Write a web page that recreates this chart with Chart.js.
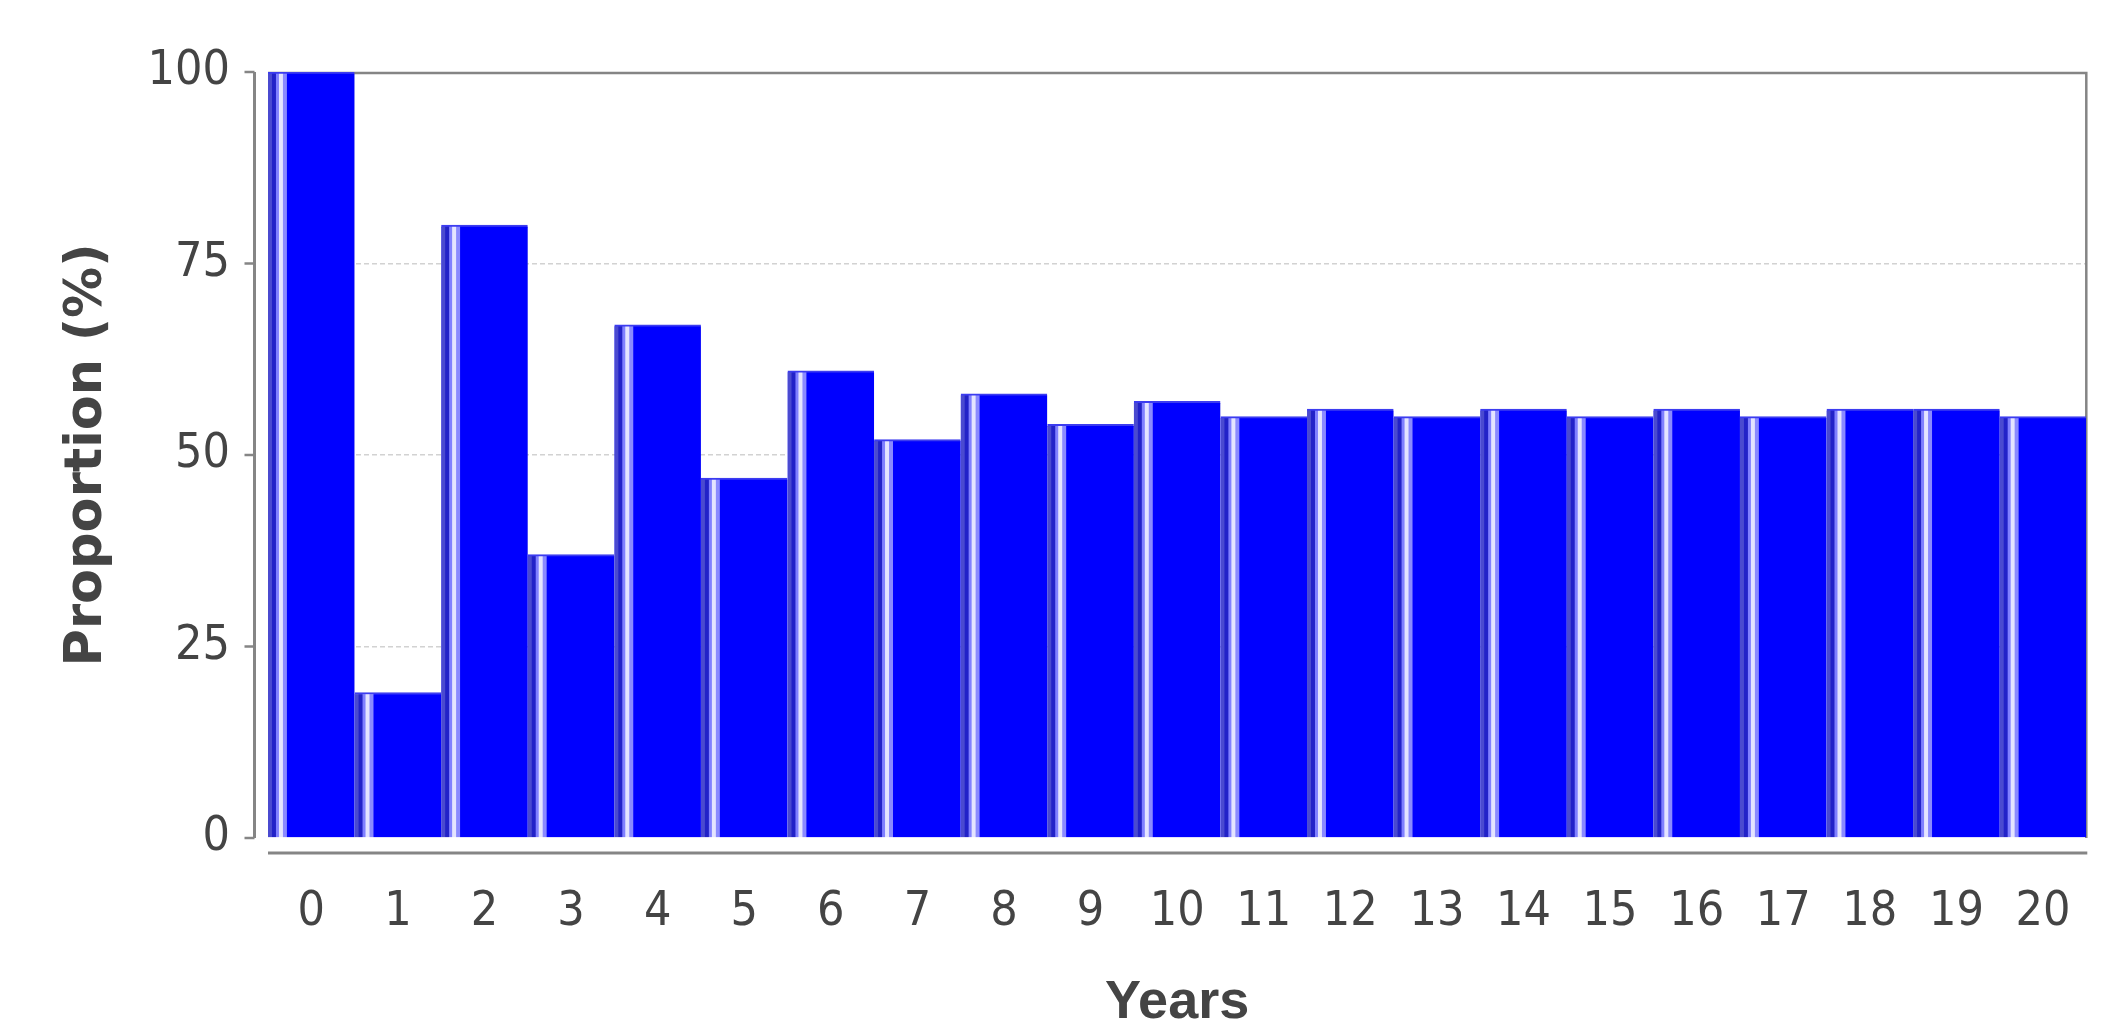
<!doctype html>
<html lang="en">
<head>
<meta charset="utf-8">
<title>Proportion by year</title>
<script src="https://cdn.jsdelivr.net/npm/chart.js"></script>
<style>
html, body { margin: 0; padding: 0; background: #fff; }
#wrap { width: 2109px; height: 1027px; }
</style>
</head>
<body>
<div id="wrap"><canvas id="chart" width="2109" height="1027"></canvas></div>
<script>
// Data
const years = ['0','1','2','3','4','5','6','7','8','9','10','11','12','13','14','15','16','17','18','19','20'];
const proportion = [100, 19, 80, 37, 67, 47, 61, 52, 58, 54, 57, 55, 56, 55, 56, 55, 56, 55, 56, 56, 55];
const yTicks = [0, 25, 50, 75, 100];

const axisGray = '#858585';
const textGray = '#444444';

// stripe pattern for the bars (highlight on the left of each bar)
const PW = 87;
const pcan = document.createElement('canvas');
pcan.width = PW; pcan.height = 1;
const pctx = pcan.getContext('2d');
const stripes = [
  [0, 4, '#4a4ad0'],
  [4, 8, '#2222c8'],
  [8, 11, '#8080ff'],
  [11, 15, '#e4e4ff'],
  [15, 19, '#8a8aff'],
  [19, PW, '#0000ff']
];
stripes.forEach(s => { pctx.fillStyle = s[2]; pctx.fillRect(s[0], 0, s[1] - s[0], 1); });
const ctx = document.getElementById('chart').getContext('2d');
const barPattern = ctx.createPattern(pcan, 'repeat');

const axesPlugin = {
  id: 'axesPlugin',
  beforeDatasetsDraw(chart) {
    const a = chart.chartArea;
    const cw = a.width / years.length;
    barPattern.setTransform(new DOMMatrix([cw / PW, 0, 0, 1, a.left, 0]));

    const c = chart.ctx;
    const ys = chart.scales.y;
    c.save();
    c.strokeStyle = axisGray;
    c.setLineDash([]);
    // top and right border of the plot
    c.lineWidth = 2.5;
    c.beginPath();
    c.moveTo(a.left, a.top + 1);
    c.lineTo(a.right, a.top + 1);
    c.lineTo(a.right, a.bottom);
    c.stroke();
    // y axis, set off to the left
    const ax = a.left - 13.5;
    c.lineWidth = 3;
    c.beginPath();
    c.moveTo(ax, ys.getPixelForValue(100));
    c.lineTo(ax, ys.getPixelForValue(0));
    c.stroke();
    c.lineWidth = 2.5;
    yTicks.forEach(v => {
      const py = ys.getPixelForValue(v);
      c.beginPath();
      c.moveTo(ax - 10, py);
      c.lineTo(ax, py);
      c.stroke();
    });
    // x axis, set off below
    c.lineWidth = 3;
    c.beginPath();
    c.moveTo(a.left, a.bottom + 15);
    c.lineTo(a.right + 1, a.bottom + 15);
    c.stroke();
    c.restore();
  }
};

new Chart(ctx, {
  type: 'bar',
  data: {
    labels: years,
    datasets: [{
      data: proportion,
      backgroundColor: barPattern,
      borderColor: '#3c3cf0',
      borderWidth: { top: 2, left: 0, right: 0, bottom: 0 },
      borderSkipped: 'start',
      barPercentage: 1,
      categoryPercentage: 1
    }]
  },
  options: {
    responsive: false,
    animation: false,
    devicePixelRatio: 1,
    events: [],
    layout: { padding: { top: 72, right: 22, left: 0, bottom: 0 } },
    plugins: {
      legend: { display: false },
      tooltip: { enabled: false }
    },
    scales: {
      x: {
        grid: { display: false },
        border: { display: false },
        ticks: {
          color: textGray,
          font: { family: "'DejaVu Sans Condensed', 'DejaVu Sans'", size: 48 },
          padding: 38,
          maxRotation: 0,
          autoSkip: false
        },
        title: {
          display: true,
          text: 'Years',
          color: textGray,
          font: { family: "'Liberation Sans'", size: 54, weight: 'bold', lineHeight: 0.9 },
          padding: { top: 0, bottom: 0 }
        },
        afterFit(scale) { scale.height = 189; }
      },
      y: {
        min: 0,
        max: 100,
        afterBuildTicks(scale) { scale.ticks = yTicks.map(v => ({ value: v })); },
        grid: {
          drawTicks: false,
          lineWidth: 1.5,
          color: c => (c.tick && c.tick.value > 0 && c.tick.value < 100) ? '#d2d2d2' : 'rgba(0,0,0,0)'
        },
        border: { display: false, dash: [5, 3] },
        ticks: {
          color: textGray,
          font: { family: "'DejaVu Sans Condensed', 'DejaVu Sans'", size: 48 },
          padding: 38
        },
        title: {
          display: true,
          text: 'Proportion (%)',
          color: textGray,
          font: { family: "'DejaVu Sans'", size: 51, weight: 'bold' },
          padding: { top: 57, bottom: 0 }
        },
        afterFit(scale) { scale.width = 268; }
      }
    }
  },
  plugins: [axesPlugin]
});
</script>
</body>
</html>
